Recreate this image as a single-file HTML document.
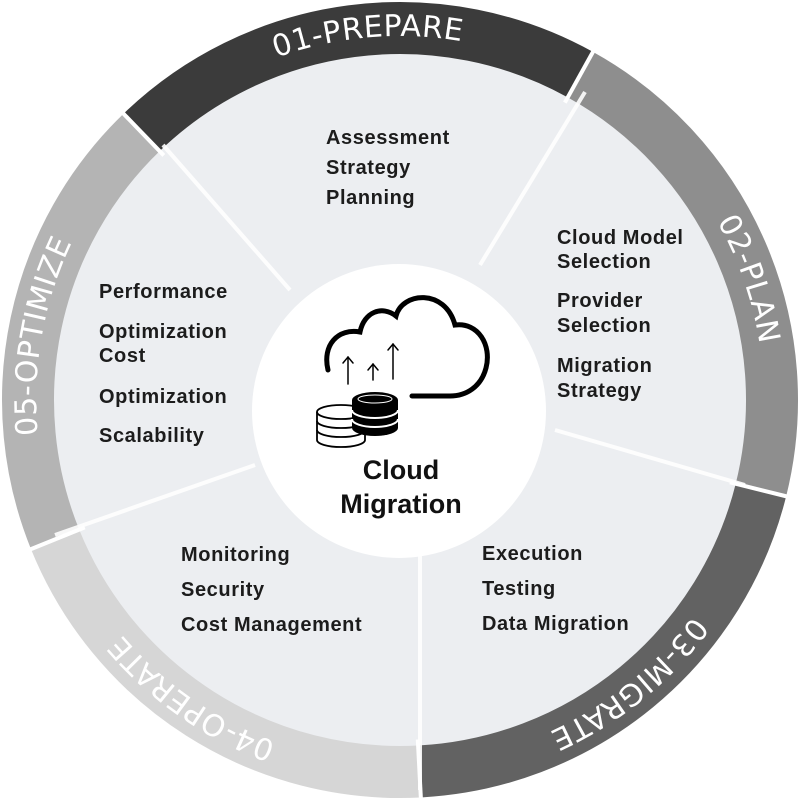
<!DOCTYPE html>
<html><head><meta charset="utf-8"><style>
html,body{margin:0;padding:0;background:#fff;}
svg{display:block;}
.t{font-family:"Liberation Sans",sans-serif;font-size:20px;font-weight:600;fill:#1c1c1c;letter-spacing:0.6px;}
.r{font-family:"DejaVu Sans","Liberation Sans",sans-serif;font-size:30px;fill:#fff;letter-spacing:0.5px;}
</style></head><body>
<svg width="800" height="800" viewBox="0 0 800 800" xmlns="http://www.w3.org/2000/svg">
<defs>
<path id="lp" d="M400,764 A364,364 0 0 1 400,36 A364,364 0 0 1 400,764"/>
</defs>
<circle cx="400" cy="400" r="350" fill="#eceef1"/>
<g id="ring"></g>
<script>
(function(){
 var segs=[[316,389,'#3b3b3b'],[29,104,'#8e8e8e'],[104,177,'#626262'],[177,248,'#d6d6d6'],[248,316,'#b4b4b4']];
 var g=document.getElementById('ring'),ns='http://www.w3.org/2000/svg';
 function pt(a,r){var t=(a-90)*Math.PI/180;return [400+r*Math.cos(t),400+r*Math.sin(t)];}
 segs.forEach(function(s){
  var r=372,p1=pt(s[0],r),p2=pt(s[1],r);
  var e=document.createElementNS(ns,'path');
  e.setAttribute('d','M'+p1[0]+','+p1[1]+' A'+r+','+r+' 0 0 1 '+p2[0]+','+p2[1]);
  e.setAttribute('fill','none');e.setAttribute('stroke',s[2]);e.setAttribute('stroke-width','52');
  g.appendChild(e);
 });
 [29,104,177,248,316].forEach(function(a){
  var p1=pt(a,340),p2=pt(a,402);
  var e=document.createElementNS(ns,'line');
  e.setAttribute('x1',p1[0]);e.setAttribute('y1',p1[1]);e.setAttribute('x2',p2[0]);e.setAttribute('y2',p2[1]);
  e.setAttribute('stroke','#fff');e.setAttribute('stroke-width','4');g.appendChild(e);
 });
})();
</script>
<g stroke="#fff" stroke-width="4" opacity="0.9">
<line x1="290" y1="290" x2="163" y2="145"/>
<line x1="480" y1="265" x2="585" y2="92"/>
<line x1="555" y1="430" x2="745" y2="485"/>
<line x1="420" y1="550" x2="420" y2="790"/>
<line x1="255" y1="465" x2="55" y2="535"/>
</g>
<circle cx="399" cy="411" r="147" fill="#fff"/>
<g class="r">
<text><textPath href="#lp" startOffset="48.6%" text-anchor="middle">01-PREPARE</textPath></text>
<text><textPath href="#lp" startOffset="69.7%" text-anchor="middle">02-PLAN</textPath></text>
<text><textPath href="#lp" startOffset="89.2%" text-anchor="middle">03-MIGRATE</textPath></text>
<text><textPath href="#lp" startOffset="9.7%" text-anchor="middle">04-OPERATE</textPath></text>
<text><textPath href="#lp" startOffset="27.8%" text-anchor="middle">05-OPTIMIZE</textPath></text>
</g>
<g class="t">
<text x="326" y="144">Assessment</text>
<text x="326" y="174">Strategy</text>
<text x="326" y="204">Planning</text>
<text x="557" y="244">Cloud Model</text>
<text x="557" y="268">Selection</text>
<text x="557" y="307">Provider</text>
<text x="557" y="332">Selection</text>
<text x="557" y="372">Migration</text>
<text x="557" y="397">Strategy</text>
<text x="99" y="298">Performance</text>
<text x="99" y="338">Optimization</text>
<text x="99" y="362">Cost</text>
<text x="99" y="403">Optimization</text>
<text x="99" y="442">Scalability</text>
<text x="181" y="561">Monitoring</text>
<text x="181" y="596">Security</text>
<text x="181" y="631">Cost Management</text>
<text x="482" y="560">Execution</text>
<text x="482" y="595">Testing</text>
<text x="482" y="630">Data Migration</text>
</g>
<g font-family="Liberation Sans,sans-serif" font-size="27" font-weight="600" fill="#111" text-anchor="middle">
<text x="401" y="479">Cloud</text>
<text x="401" y="513">Migration</text>
</g>
<g fill="none" stroke="#000" stroke-linecap="round">
<path d="M328,370 C322,345 338,328 360,332 C364,312 382,305 396,316 C402,292 445,288 455,325 C478,322 492,345 486,368 C481,387 466,396 450,396 L412,396" stroke-width="5"/>
<g stroke-width="1.5">
<line x1="348" y1="384" x2="348" y2="357"/><path d="M343,363 L348,357 L353,363"/>
<line x1="373" y1="380" x2="373" y2="364"/><path d="M368,370 L373,364 L378,370"/>
<line x1="393" y1="379" x2="393" y2="344"/><path d="M388,350 L393,344 L398,350"/>
</g>
</g>
<g fill="#fff" stroke="#000" stroke-width="1.8">
<path d="M317,412 L317,440 A24,7 0 0 0 365,440 L365,412"/>
<ellipse cx="341" cy="412" rx="24" ry="7"/>
<path d="M317,421 A24,7 0 0 0 365,421 M317,430 A24,7 0 0 0 365,430" fill="none"/>
</g>
<g fill="#000">
<path d="M352,400 L352,428 A23,8 0 0 0 398,428 L398,400 Z"/>
<ellipse cx="375" cy="400" rx="23" ry="8"/>
</g>
<g fill="none" stroke="#fff" stroke-width="2">
<path d="M352,410 A23,8 0 0 0 398,410 M352,419 A23,8 0 0 0 398,419"/>
<ellipse cx="375" cy="399" rx="17" ry="4" stroke-width="1"/>
</g>
</svg>
</body></html>
